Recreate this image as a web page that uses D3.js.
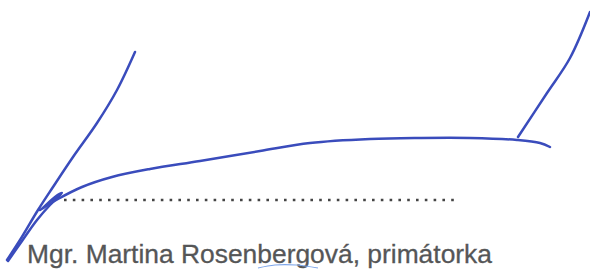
<!DOCTYPE html>
<html>
<head>
<meta charset="utf-8">
<script src="https://cdn.jsdelivr.net/npm/d3@7"></script>
<style>
  body { margin: 0; background: #fff; }
  svg { display: block; }
</style>
</head>
<body>
<div id="sig"></div>
<script>
// pen strokes, as points in picture units (x right, y down)
const stroke_left = [[135,52],[117,90],[97,123],[73,157],[53,187],[38,210],[20,240],[7,260]]
const stroke_back = [[8,261],[22,241],[37,220],[50,205],[62,193],[55,197],[43,208]]
const stroke_main = [[40,210],[58,199],[82,187],[112,177],[150,169],[200,161],[260,151],[310,143],[370,139],[420,138],[470,138],[517,140],[540,143],[550,147]]
const stroke_right = [[518,137],[547,93],[570,58],[590,12]]
const underline = [[258,268],[275,265],[296,265],[318,268]]
const dotted_line = [[64,200],[456,200]]
const caption = "Mgr. Martina Rosenbergová, primátorka"

const ink = "#3a4cbc"

var width = 590, height = 269

var svg = d3.select("#sig")
  .append("svg")
    .attr("width", width)
    .attr("height", height)

var x = d3.scaleLinear().domain([0, 590]).range([0, width])
var y = d3.scaleLinear().domain([0, 269]).range([0, height])

var pen = d3.line()
    .x(function(d) { return x(d[0]) })
    .y(function(d) { return y(d[1]) })
    .curve(d3.curveCatmullRom)

// signature line
svg.append("path")
  .datum(dotted_line)
  .attr("d", d3.line().x(d => x(d[0])).y(d => y(d[1])))
  .attr("fill", "none")
  .attr("stroke", "#444")
  .attr("stroke-width", 2.6)
  .attr("stroke-dasharray", "2.6,6.2")

// caption
svg.append("text")
  .attr("x", x(27))
  .attr("y", y(263))
  .attr("font-family", "'Liberation Sans', Arial, sans-serif")
  .attr("font-size", 26.4)
  .attr("fill", "#555657")
  .attr("stroke", "#555657")
  .attr("stroke-width", 0.3)
  .text(caption)

svg.append("path")
  .datum(underline)
  .attr("d", pen)
  .attr("fill", "none")
  .attr("stroke", "#7ea6ea")
  .attr("stroke-width", 1.2)

var strokes = [stroke_left, stroke_back, stroke_main, stroke_right]
svg.selectAll(".stroke")
  .data(strokes)
  .enter()
  .append("path")
    .attr("class", "stroke")
    .attr("d", pen)
    .attr("fill", "none")
    .attr("stroke", ink)
    .attr("stroke-width", 2.5)
    .attr("stroke-linecap", "round")
    .attr("stroke-linejoin", "round")
</script>
</body>
</html>
